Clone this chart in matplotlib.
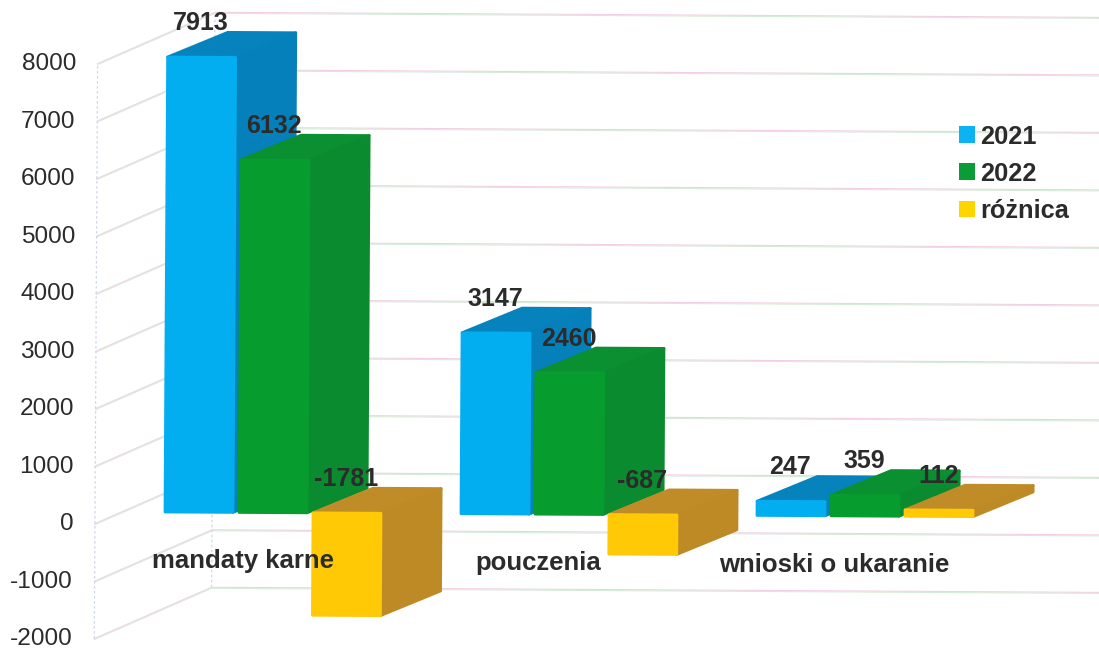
import matplotlib
matplotlib.use('Agg')
import matplotlib.pyplot as plt
from matplotlib.patches import Polygon, Patch
from matplotlib.transforms import Affine2D

plt.rcParams['font.family'] = ['Liberation Sans', 'DejaVu Sans']

categories = ['mandaty karne', 'pouczenia', 'wnioski o ukaranie']
series_names = ['2021', '2022', 'różnica']
values_2021 = [7913, 3147, 247]
values_2022 = [6132, 2460, 359]
values_diff = [-1781, -687, 112]
yticks = [8000, 7000, 6000, 5000, 4000, 3000, 2000, 1000, 0, -1000, -2000]

front_colors = ['#02aef0', '#069c2e', '#ffc906']
side_colors = ['#0580ba', '#0b8b30', '#bd8a26']
top_colors = ['#0683bd', '#0a9030', '#bf8c28']
legend_colors = ['#0db2f2', '#0a9c36', '#ffd500']
text_color = '#2b2b2b'

W, H = 1099, 651
PX_X = 296.0    # px per category
PX_Y = 0.0575   # px per unit
X0, Y0 = 165, 512  # px of first bar, left at zero

fig = plt.figure(figsize=(W / 100, H / 100), dpi=100)
ax = fig.add_axes([0, 0, 1, 1])
ax.set_xlim(-X0 / PX_X, (W - X0) / PX_X)
ax.set_ylim((Y0 - H) / PX_Y, Y0 / PX_Y)
ax.axis('off')

# the scan is turned a little clockwise
scan = Affine2D().rotate_deg_around(X0, H - Y0, -0.33)
tr = ax.transData + scan

bar_w = 68.0 / PX_X
bar_step = 74.0 / PX_X
depth_x = 60 / PX_X
depth_y = 25 / PX_Y

# walls
wall_fx, wall_fy = -70 / PX_X, -12 / PX_Y
wall_bx, wall_by = 47 / PX_X, 40 / PX_Y
right_x = (W + 10 - X0) / PX_X
for v in yticks:
    for off, col in [(0, '#f4cfe4'), (-18, '#d6ecd9')]:
        ax.plot([wall_fx, wall_bx, right_x],
                [v + wall_fy + off, v + wall_by + off, v + wall_by + off],
                color=col, lw=0.8, transform=tr, zorder=1)
    ax.text((73.5 - X0) / PX_X, v + wall_fy - 1 / PX_Y, str(v), ha='right', va='center',
            fontsize=17.6, color=text_color, transform=tr, zorder=6)
for x, y in [(wall_fx, wall_fy), (wall_bx, wall_by)]:
    ax.plot([x, x], [yticks[-1] + y, yticks[0] + y], color='#cfd6e6', lw=0.9,
            ls=(0, (2, 2)), transform=tr, zorder=1)


def draw_bar(left, v, k):
    right = left + bar_w
    top = max(v, 0)
    bot = min(v, 0)
    faces = [
        ([(left, top), (right, top), (right + depth_x, top + depth_y), (left + depth_x, top + depth_y)], top_colors[k]),
        ([(right, top), (right + depth_x, top + depth_y), (right + depth_x, bot + depth_y), (right, bot)], side_colors[k]),
        ([(left, bot), (right, bot), (right, top), (left, top)], front_colors[k]),
    ]
    for pts, col in faces:
        ax.add_patch(Polygon(pts, closed=True, fc=col, ec=col, lw=2, joinstyle='round',
                             transform=tr, zorder=3))


all_series = [values_2021, values_2022, values_diff]
for i, cat in enumerate(categories):
    for k, vals in enumerate(all_series):
        left = i + k * bar_step
        draw_bar(left, vals[i], k)
        ax.text(left + 33 / PX_X, max(vals[i], 0) + 34 / PX_Y, str(vals[i]),
                ha='center', va='center', fontsize=18, fontweight='bold',
                color=text_color, transform=tr, zorder=6)
    ax.text(i + 78 / PX_X, -49 / PX_Y, cat, ha='center', va='center', fontsize=18.5,
            fontweight='bold', color=text_color, transform=tr, zorder=6)

handles = [Patch(fc=c, ec='none', label=n) for c, n in zip(legend_colors, series_names)]
leg = fig.legend(handles=handles, loc='upper left', bbox_to_anchor=(959 / W, 1 - 124.5 / H),
                 frameon=False, fontsize=18.3, labelspacing=0.52, handlelength=0.63,
                 handleheight=0.63, handletextpad=0.22, borderpad=0, borderaxespad=0)
for t in leg.get_texts():
    t.set_fontweight('bold')
    t.set_color(text_color)

fig.savefig('out.png', dpi=100)
